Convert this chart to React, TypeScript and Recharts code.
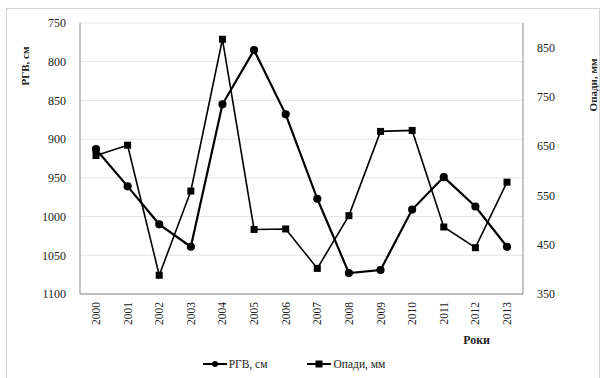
import React from 'react'
import { LineChart, Line, XAxis, YAxis, CartesianGrid, Legend } from 'recharts'

const years = ['2000', '2001', '2002', '2003', '2004', '2005', '2006', '2007', '2008', '2009', '2010', '2011', '2012', '2013']
const rgv = [913, 961, 1010, 1039, 855, 785, 868, 977, 1073, 1069, 991, 949, 987, 1039]
const opady = [631, 652, 388, 559, 867, 481, 482, 402, 509, 680, 682, 486, 444, 577]

const leftTicks = [750, 800, 850, 900, 950, 1000, 1050, 1100]
const rightTicks = [350, 450, 550, 650, 750, 850]

const FONT = '"Liberation Serif", "Times New Roman", serif'

const chartData = years.map((year, i) => ({ year, rgv: rgv[i], opady: opady[i] }))

function SquareDot(props: { cx?: number; cy?: number }): React.ReactElement | null {
  const { cx, cy } = props
  if (cx == null || cy == null) return null
  return <rect x={cx - 3.5} y={cy - 3.5} width={7} height={7} fill="#000" />
}

function YearTick(props: { x?: number; y?: number; payload?: { value: string } }): React.ReactElement {
  const { x = 0, y = 0, payload } = props
  return (
    <text x={x} y={y} transform={`rotate(-90 ${x} ${y})`} textAnchor="end" dy={4}
      fontFamily={FONT} fontSize={11.5} fill="#222">
      {payload?.value}
    </text>
  )
}

function LegendBox(): React.ReactElement {
  return (
    <div style={{ display: 'flex', justifyContent: 'center', height: 16, fontFamily: FONT, fontSize: 11.5, color: '#222', paddingRight: 14 }}>
      <svg width={26} height={16}>
        <line x1={0} y1={8} x2={24} y2={8} stroke="#000" strokeWidth={2} />
        <circle cx={12} cy={8} r={3} fill="#000" />
      </svg>
      <span style={{ lineHeight: '16px', marginRight: 40 }}>РГВ, см</span>
      <svg width={26} height={16}>
        <line x1={0} y1={8} x2={24} y2={8} stroke="#000" strokeWidth={2} />
        <rect x={8.5} y={4.5} width={7} height={7} fill="#000" />
      </svg>
      <span style={{ lineHeight: '16px' }}>Опади, мм</span>
    </div>
  )
}

export default function App(): React.ReactElement {
  return (
    <div style={{ position: 'absolute', left: 0, top: 0, width: 602, height: 378, overflow: 'hidden', background: '#fff' }}>
      <div style={{ position: 'absolute', left: 6, top: 8, width: 592, height: 380, border: '1px solid #d4d4d4' }} />
      <div style={{ position: 'absolute', left: 0, top: 0 }}>
        <LineChart width={602} height={378} data={chartData} margin={{ top: 23, right: 0, left: 0, bottom: 6 }}>
          <CartesianGrid horizontal vertical={false} stroke="#e4e4e4" yAxisId="left" />
          <XAxis dataKey="year" height={62} tickLine={false} axisLine={{ stroke: '#8c8c8c' }}
            tick={<YearTick />} interval={0} padding={{ left: 16, right: 16 }}
            label={{ value: 'Роки', position: 'insideTopRight', dx: -28, dy: 36, fontFamily: FONT, fontSize: 12, fontWeight: 'bold', fill: '#222' }} />
          <YAxis yAxisId="left" orientation="left" reversed domain={[750, 1100]} ticks={leftTicks} width={80}
            tickLine={false} axisLine={{ stroke: '#8c8c8c' }} tickMargin={8}
            tick={{ fontFamily: FONT, fontSize: 12, fill: '#222' }}
            label={{ value: 'РГВ, см', angle: -90, position: 'insideTopLeft', dx: 16, dy: 38, fontFamily: FONT, fontSize: 11, fontWeight: 'bold', fill: '#222', textAnchor: 'middle' }} />
          <YAxis yAxisId="right" orientation="right" domain={[350, 900]} ticks={rightTicks} width={79}
            tickLine={false} axisLine={{ stroke: '#8c8c8c' }} tickMargin={8}
            tick={{ fontFamily: FONT, fontSize: 12, fill: '#222' }}
            label={{ value: 'Опади, мм', angle: -90, position: 'insideTopRight', dx: -8, dy: 57, fontFamily: FONT, fontSize: 11, fontWeight: 'bold', fill: '#222', textAnchor: 'middle' }} />
          <Legend verticalAlign="bottom" content={<LegendBox />} />
          <Line yAxisId="left" dataKey="rgv" name="РГВ, см" stroke="#000" strokeWidth={2.2}
            dot={{ r: 3, fill: '#000', stroke: '#000' }} isAnimationActive={false} />
          <Line yAxisId="right" dataKey="opady" name="Опади, мм" stroke="#000" strokeWidth={1.6}
            dot={<SquareDot />} isAnimationActive={false} />
        </LineChart>
      </div>
    </div>
  )
}
